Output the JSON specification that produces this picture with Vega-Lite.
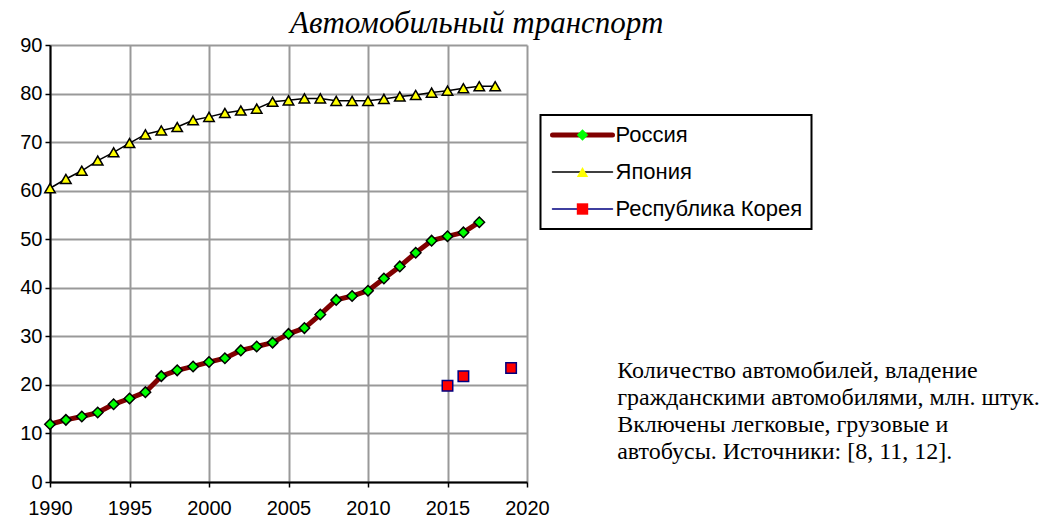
{
  "$schema": "https://vega.github.io/schema/vega-lite/v6.json",
  "width": 477,
  "height": 437,
  "autosize": {"type": "none"},
  "padding": {"left": 50, "top": 45, "right": 529, "bottom": 35},
  "background": "white",
  "config": {
    "view": {"stroke": null},
    "axis": {
      "labelFont": "Liberation Sans",
      "labelFontSize": 20,
      "labelColor": "black",
      "labelFlush": false,
      "domainColor": "black",
      "domainWidth": 2,
      "tickColor": "black",
      "tickWidth": 1.5,
      "tickSize": 5,
      "gridColor": "#999999",
      "gridWidth": 2,
      "title": null
    }
  },
  "title": {
    "text": "Автомобильный транспорт",
    "anchor": "start",
    "frame": "group",
    "dx": 240,
    "offset": -29,
    "baseline": "alphabetic",
    "font": "Liberation Serif",
    "fontStyle": "italic",
    "fontWeight": "normal",
    "fontSize": 31,
    "color": "black"
  },
  "data": {
    "values": [
      {"country": "Россия", "year": 1990, "value": 11.9},
      {"country": "Россия", "year": 1991, "value": 12.8},
      {"country": "Россия", "year": 1992, "value": 13.5},
      {"country": "Россия", "year": 1993, "value": 14.3},
      {"country": "Россия", "year": 1994, "value": 16.0},
      {"country": "Россия", "year": 1995, "value": 17.2},
      {"country": "Россия", "year": 1996, "value": 18.5},
      {"country": "Россия", "year": 1997, "value": 21.8},
      {"country": "Россия", "year": 1998, "value": 23.0},
      {"country": "Россия", "year": 1999, "value": 23.8},
      {"country": "Россия", "year": 2000, "value": 24.7},
      {"country": "Россия", "year": 2001, "value": 25.5},
      {"country": "Россия", "year": 2002, "value": 27.1},
      {"country": "Россия", "year": 2003, "value": 27.9},
      {"country": "Россия", "year": 2004, "value": 28.7},
      {"country": "Россия", "year": 2005, "value": 30.5},
      {"country": "Россия", "year": 2006, "value": 31.7},
      {"country": "Россия", "year": 2007, "value": 34.5},
      {"country": "Россия", "year": 2008, "value": 37.5},
      {"country": "Россия", "year": 2009, "value": 38.3},
      {"country": "Россия", "year": 2010, "value": 39.4},
      {"country": "Россия", "year": 2011, "value": 41.9},
      {"country": "Россия", "year": 2012, "value": 44.4},
      {"country": "Россия", "year": 2013, "value": 47.2},
      {"country": "Россия", "year": 2014, "value": 49.7},
      {"country": "Россия", "year": 2015, "value": 50.6},
      {"country": "Россия", "year": 2016, "value": 51.4},
      {"country": "Россия", "year": 2017, "value": 53.5},
      {"country": "Япония", "year": 1990, "value": 60.5},
      {"country": "Япония", "year": 1991, "value": 62.4},
      {"country": "Япония", "year": 1992, "value": 64.1},
      {"country": "Япония", "year": 1993, "value": 66.2},
      {"country": "Япония", "year": 1994, "value": 67.9},
      {"country": "Япония", "year": 1995, "value": 69.8},
      {"country": "Япония", "year": 1996, "value": 71.6},
      {"country": "Япония", "year": 1997, "value": 72.4},
      {"country": "Япония", "year": 1998, "value": 73.1},
      {"country": "Япония", "year": 1999, "value": 74.5},
      {"country": "Япония", "year": 2000, "value": 75.2},
      {"country": "Япония", "year": 2001, "value": 76.0},
      {"country": "Япония", "year": 2002, "value": 76.5},
      {"country": "Япония", "year": 2003, "value": 76.9},
      {"country": "Япония", "year": 2004, "value": 78.3},
      {"country": "Япония", "year": 2005, "value": 78.6},
      {"country": "Япония", "year": 2006, "value": 79.0},
      {"country": "Япония", "year": 2007, "value": 79.0},
      {"country": "Япония", "year": 2008, "value": 78.5},
      {"country": "Япония", "year": 2009, "value": 78.5},
      {"country": "Япония", "year": 2010, "value": 78.5},
      {"country": "Япония", "year": 2011, "value": 78.9},
      {"country": "Япония", "year": 2012, "value": 79.4},
      {"country": "Япония", "year": 2013, "value": 79.7},
      {"country": "Япония", "year": 2014, "value": 80.2},
      {"country": "Япония", "year": 2015, "value": 80.6},
      {"country": "Япония", "year": 2016, "value": 81.1},
      {"country": "Япония", "year": 2017, "value": 81.5},
      {"country": "Япония", "year": 2018, "value": 81.5},
      {"country": "Республика Корея", "year": 2015, "value": 19.8},
      {"country": "Республика Корея", "year": 2016, "value": 21.8},
      {"country": "Республика Корея", "year": 2019, "value": 23.5}
    ]
  },
  "encoding": {
    "x": {
      "field": "year",
      "type": "quantitative",
      "scale": {"domain": [1990, 2020], "nice": false, "zero": false},
      "axis": {"values": [1990, 1995, 2000, 2005, 2010, 2015, 2020], "format": "d", "labelPadding": 11}
    },
    "y": {
      "field": "value",
      "type": "quantitative",
      "scale": {"domain": [0, 90], "nice": false},
      "axis": {"values": [0, 10, 20, 30, 40, 50, 60, 70, 80, 90], "labelPadding": 3}
    }
  },
  "layer": [
    {
      "transform": [{"filter": "datum.country !== 'Республика Корея'"}],
      "mark": {"type": "line", "strokeCap": "round", "strokeJoin": "round"},
      "encoding": {
        "stroke": {
          "field": "country",
          "type": "nominal",
          "scale": {"domain": ["Россия", "Япония", "Республика Корея"], "range": ["#800000", "#000000", "#000080"]},
          "legend": {
            "title": null,
            "orient": "none",
            "legendX": 490.5,
            "legendY": 70,
            "zindex": 0,
            "padding": 9,
            "rowPadding": 15,
            "strokeColor": "black",
            "labelFont": "Liberation Sans",
            "labelFontSize": 22,
            "labelColor": "black",
            "labelLimit": 300,
            "labelOffset": 22,
            "symbolOffset": 22,
            "symbolType": "M-6,0H-0.5M0.5,0H6",
            "symbolSize": 100,
            "symbolStrokeWidth": 1.5,
            "encode": {
              "legend": {"update": {"strokeWidth": {"value": 2}}},
              "symbols": {"update": {
                "strokeWidth": {"signal": "datum.value === 'Россия' ? 5 : 1.5"},
                "fill": {"value": "transparent"},
                "strokeCap": {"value": "round"}
              }}
            }
          }
        },
        "strokeWidth": {
          "condition": {"test": "datum.country === 'Россия'", "value": 5},
          "value": 1.5
        }
      }
    },
    {
      "mark": {"type": "point", "filled": true, "size": 110, "stroke": "black", "strokeWidth": 1.5, "opacity": 1},
      "encoding": {
        "shape": {
          "field": "country",
          "type": "nominal",
          "scale": {"domain": ["Республика Корея", "Россия", "Япония"], "range": ["square", "diamond", "triangle-up"]},
          "legend": {
            "title": null,
            "values": ["Россия", "Япония", "Республика Корея"],
            "orient": "none",
            "legendX": 490.5,
            "legendY": 70,
            "zindex": 1,
            "padding": 9,
            "rowPadding": 15,
            "labelFont": "Liberation Sans",
            "labelFontSize": 22,
            "labelOpacity": 0,
            "labelLimit": 300,
            "labelOffset": 22,
            "symbolOffset": 22,
            "symbolSize": 130,
            "symbolStrokeWidth": 1.5,
            "symbolStrokeColor": "black",
            "encode": {
              "symbols": {"update": {
                "size": {"value": 130},
                "strokeWidth": {"value": 1.5},
                "opacity": {"value": 1},
                "stroke": {"signal": "datum.value === 'Республика Корея' ? '#000080' : 'black'"}
              }}
            }
          }
        },
        "fill": {
          "field": "country",
          "type": "nominal",
          "scale": {"domain": ["Республика Корея", "Россия", "Япония"], "range": ["#ff0000", "#00ff00", "#ffff00"]},
          "legend": {
            "title": null,
            "values": ["Россия", "Япония", "Республика Корея"],
            "orient": "none",
            "legendX": 490.5,
            "legendY": 70,
            "zindex": 1,
            "padding": 9,
            "rowPadding": 15,
            "labelFont": "Liberation Sans",
            "labelFontSize": 22,
            "labelOpacity": 0,
            "labelLimit": 300,
            "labelOffset": 22,
            "symbolOffset": 22,
            "symbolSize": 130,
            "symbolStrokeWidth": 1.5,
            "symbolStrokeColor": "black",
            "encode": {
              "symbols": {"update": {
                "size": {"value": 130},
                "strokeWidth": {"value": 1.5},
                "opacity": {"value": 1},
                "stroke": {"signal": "datum.value === 'Республика Корея' ? '#000080' : 'black'"}
              }}
            }
          }
        },
        "stroke": {
          "condition": {"test": "datum.country === 'Республика Корея'", "value": "#000080"},
          "value": "black"
        }
      }
    },
    {
      "transform": [{"filter": "datum.country === 'Япония' && datum.year === 1990"}],
      "mark": {
        "type": "text",
        "align": "left",
        "baseline": "alphabetic",
        "font": "Liberation Serif",
        "fontSize": 24,
        "lineHeight": 27,
        "color": "black"
      },
      "encoding": {
        "x": {"datum": 2025.67, "type": "quantitative"},
        "y": {"datum": 21.5, "type": "quantitative"},
        "text": {"value": ["Количество автомобилей, владение", "гражданскими автомобилями, млн. штук.", "Включены легковые, грузовые и", "автобусы. Источники: [8, 11, 12]."]}
      }
    }
  ]
}
